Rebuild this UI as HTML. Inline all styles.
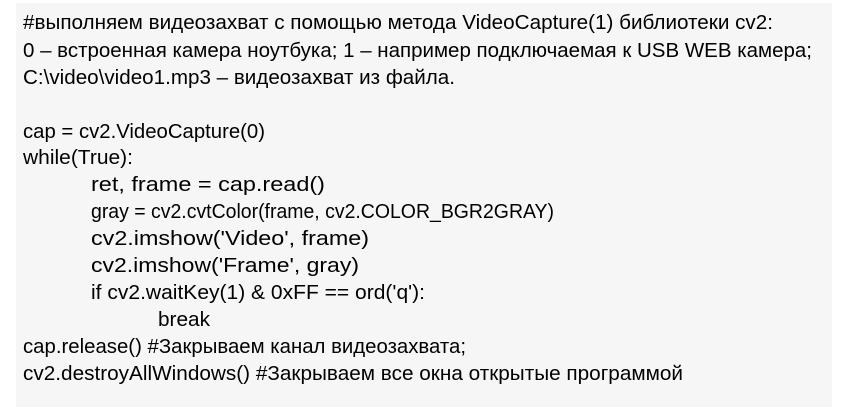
<!DOCTYPE html>
<html><head><meta charset="utf-8"><style>
body{margin:0;background:#fff;width:845px;height:415px;overflow:hidden}
svg{display:block}
text{font-family:"Liberation Sans",sans-serif;font-size:20.5px;fill:#000}
</style></head><body>
<svg width="845" height="415" xmlns="http://www.w3.org/2000/svg">
<rect x="16" y="3" width="816" height="404" fill="#f6f6f6"/>
<text x="23" y="29" textLength="750" lengthAdjust="spacingAndGlyphs">#выполняем видеозахват с помощью метода VideoCapture(1) библиотеки cv2:</text>
<text x="23" y="57" textLength="789" lengthAdjust="spacingAndGlyphs">0 – встроенная камера ноутбука;  1 – например подключаемая к USB WEB камера;</text>
<text x="23" y="84" textLength="432" lengthAdjust="spacingAndGlyphs">C:\video\video1.mp3 – видеозахват из файла.</text>
<text x="23" y="138" textLength="242" lengthAdjust="spacingAndGlyphs">cap = cv2.VideoCapture(0)</text>
<text x="23" y="164" textLength="110" lengthAdjust="spacingAndGlyphs">while(True):</text>
<text x="91" y="191" textLength="234" lengthAdjust="spacingAndGlyphs">ret, frame = cap.read()</text>
<text x="91" y="218" textLength="463" lengthAdjust="spacingAndGlyphs">gray = cv2.cvtColor(frame, cv2.COLOR_BGR2GRAY)</text>
<text x="91" y="245" textLength="278" lengthAdjust="spacingAndGlyphs">cv2.imshow('Video', frame)</text>
<text x="91" y="272" textLength="268" lengthAdjust="spacingAndGlyphs">cv2.imshow('Frame', gray)</text>
<text x="91" y="299" textLength="334" lengthAdjust="spacingAndGlyphs">if cv2.waitKey(1) &amp; 0xFF == ord('q'):</text>
<text x="158" y="326" textLength="52" lengthAdjust="spacingAndGlyphs">break</text>
<text x="23" y="353" textLength="443" lengthAdjust="spacingAndGlyphs">cap.release()  #Закрываем канал видеозахвата;</text>
<text x="23" y="380" textLength="660" lengthAdjust="spacingAndGlyphs">cv2.destroyAllWindows() #Закрываем все окна открытые программой</text>
</svg>
</body></html>
